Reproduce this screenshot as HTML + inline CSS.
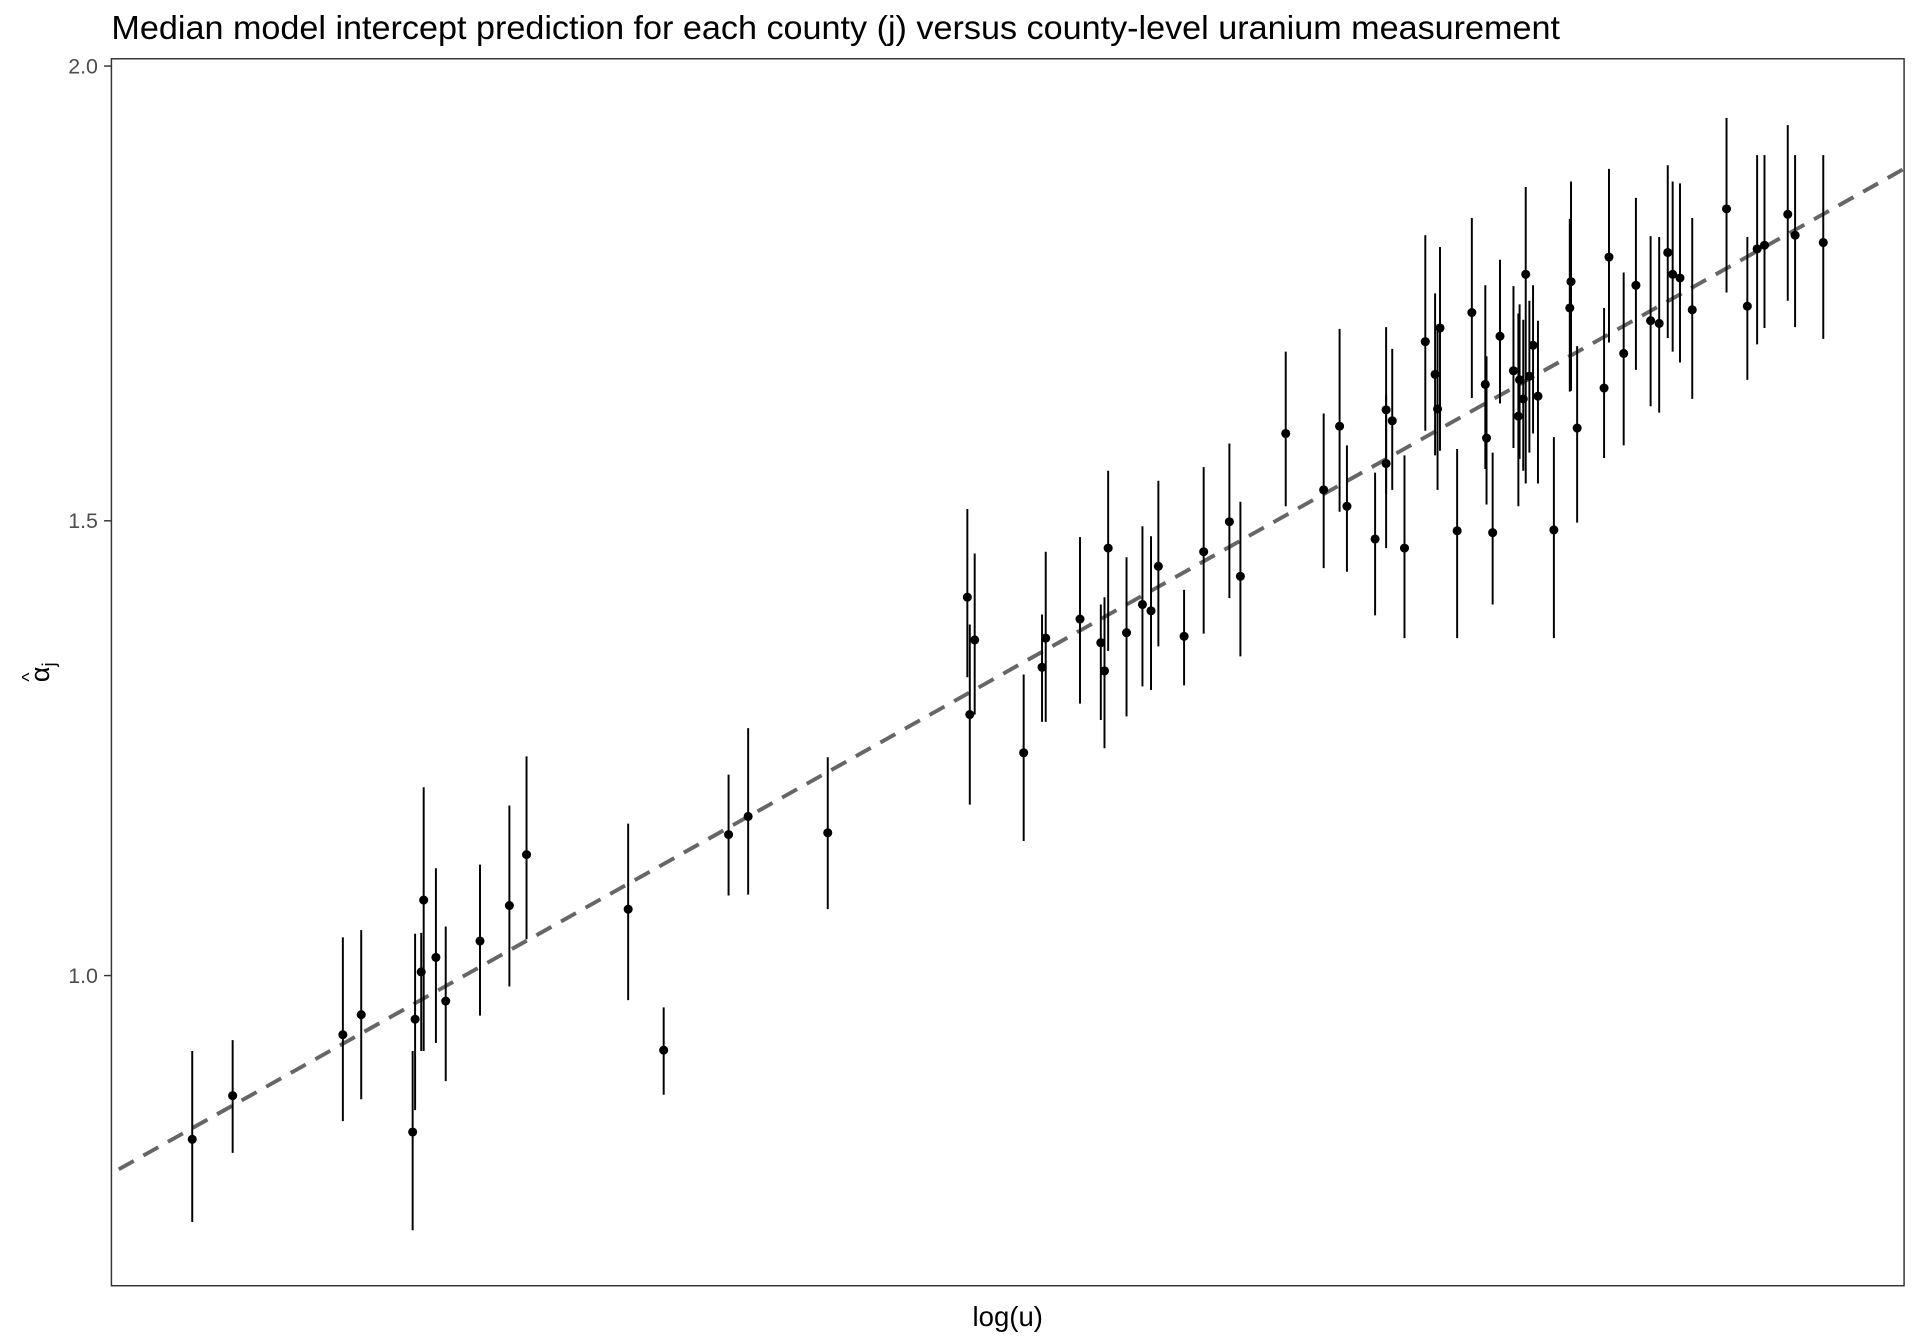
<!DOCTYPE html>
<html><head><meta charset="utf-8"><style>
html,body{margin:0;padding:0;background:#fff;}
svg{display:block;font-family:"Liberation Sans",sans-serif;}
</style></head><body>
<svg id="chart" width="1920" height="1344" viewBox="0 0 1568 1097.6" preserveAspectRatio="none" xmlns="http://www.w3.org/2000/svg">
<rect width="1568" height="1097.6" fill="#fff"/>
<text x="91" y="32" font-size="27.5" fill="#000" textLength="1183" lengthAdjust="spacingAndGlyphs">Median model intercept prediction for each county (j) versus county-level uranium measurement</text>
<rect x="91" y="48" width="1464" height="1002" fill="none" stroke="#333" stroke-width="1.2"/>
<g id="yaxis"></g>
<g id="marks"></g>
<text x="823" y="1083" font-size="22.5" text-anchor="middle">log(u)</text>
<g transform="translate(40,549) rotate(-90)">
<text x="0" y="0" font-size="22" text-anchor="middle">α<tspan font-size="15" dy="5">j</tspan></text>
<text x="-4" y="-11" font-size="16" text-anchor="middle">^</text>
</g>
</svg>
<script>
const logU=[-0.834,-0.801,-0.711,-0.696,-0.654,-0.652,-0.647,-0.645,-0.635,-0.627,-0.599,-0.575,-0.561,-0.478,-0.449,-0.396,-0.380,-0.315,-0.201,-0.199,-0.195,-0.155,-0.140,-0.137,-0.109,-0.092,-0.089,-0.086,-0.071,-0.058,-0.051,-0.045,-0.024,-0.008,0.013,0.022,0.059,0.090,0.103,0.109,0.132,0.141,0.141,0.146,0.156,0.173,0.181,0.183,0.185,0.199,0.211,0.222,0.223,0.228,0.234,0.245,0.249,0.250,0.253,0.255,0.258,0.261,0.265,0.278,0.291,0.292,0.297,0.319,0.323,0.335,0.345,0.357,0.364,0.371,0.375,0.381,0.391,0.419,0.436,0.444,0.450,0.469,0.475,0.498];
const alphaMed=[0.820,0.868,0.935,0.957,0.828,0.952,1.004,1.083,1.020,0.972,1.038,1.077,1.133,1.073,0.918,1.155,1.175,1.157,1.416,1.287,1.369,1.245,1.339,1.371,1.392,1.366,1.335,1.470,1.377,1.408,1.401,1.450,1.373,1.466,1.499,1.439,1.596,1.534,1.604,1.516,1.480,1.563,1.622,1.610,1.470,1.697,1.661,1.623,1.712,1.489,1.729,1.650,1.591,1.487,1.703,1.665,1.615,1.655,1.634,1.771,1.659,1.693,1.637,1.490,1.734,1.763,1.602,1.646,1.790,1.684,1.759,1.720,1.717,1.795,1.771,1.767,1.732,1.843,1.736,1.799,1.803,1.837,1.814,1.806];
const alphaHi=[0.917,0.929,1.042,1.050,0.917,1.046,1.047,1.207,1.118,1.054,1.122,1.187,1.241,1.167,0.965,1.221,1.272,1.240,1.513,1.386,1.464,1.331,1.397,1.466,1.482,1.408,1.416,1.555,1.460,1.494,1.483,1.544,1.424,1.559,1.585,1.521,1.686,1.618,1.711,1.583,1.553,1.639,1.713,1.689,1.572,1.814,1.750,1.716,1.801,1.579,1.833,1.759,1.681,1.575,1.787,1.758,1.728,1.738,1.721,1.867,1.742,1.759,1.720,1.592,1.832,1.873,1.692,1.734,1.887,1.773,1.855,1.813,1.812,1.891,1.873,1.871,1.833,1.943,1.812,1.902,1.902,1.935,1.902,1.902];
const alphaLo=[0.729,0.805,0.840,0.864,0.720,0.852,0.917,0.917,0.926,0.884,0.956,0.988,1.040,0.973,0.869,1.088,1.089,1.073,1.328,1.188,1.287,1.148,1.279,1.279,1.299,1.281,1.250,1.357,1.285,1.318,1.314,1.362,1.319,1.376,1.415,1.351,1.516,1.448,1.510,1.444,1.396,1.470,1.530,1.534,1.371,1.599,1.572,1.534,1.577,1.371,1.635,1.557,1.518,1.408,1.629,1.580,1.516,1.568,1.555,1.541,1.575,1.596,1.541,1.371,1.642,1.643,1.498,1.569,1.696,1.583,1.666,1.626,1.619,1.701,1.686,1.674,1.634,1.751,1.655,1.694,1.712,1.742,1.713,1.700];
const yTicks=[1.0,1.5,2.0];
const yTickLabels=["1.0","1.5","2.0"];
const fitIntercept=1.4615, fitSlope=0.7545;
const fitRange=[-0.894,0.564];

const NS="http://www.w3.org/2000/svg";
const X0=91,X1=1555,Y0=48,Y1=1050;
const xMin=-0.9,xMax=0.564,yMin=0.659,yMax=2.008;
const xs=v=>X0+(v-xMin)/(xMax-xMin)*(X1-X0);
const ys=v=>Y1-(v-yMin)/(yMax-yMin)*(Y1-Y0);
function mk(tag,attrs,parent){const e=document.createElementNS(NS,tag);for(const k in attrs)e.setAttribute(k,attrs[k]);parent.appendChild(e);return e;}
const ya=document.getElementById('yaxis');
yTicks.forEach((t,i)=>{
  const l=mk('line',{x1:85,x2:91,y1:ys(t),y2:ys(t),stroke:'#333','stroke-width':1.2},ya);
  
  
  const tx=mk('text',{x:80,y:ys(t)+6,'font-size':17.5,fill:'#4d4d4d','text-anchor':'end'},ya);
  tx.textContent=yTickLabels[i];
  
  
});
const g=document.getElementById('marks');
const fit=mk('line',{x1:xs(fitRange[0]),y1:ys(fitIntercept+fitSlope*fitRange[0]),x2:xs(fitRange[1]),y2:ys(fitIntercept+fitSlope*fitRange[1]),stroke:'#666','stroke-width':3.2,'stroke-dasharray':'14,9'},g);


logU.forEach((x,i)=>{
  const l=mk('line',{x1:xs(x),x2:xs(x),y1:ys(alphaHi[i]),y2:ys(alphaLo[i]),stroke:'#000','stroke-width':1.6},g);
  
  
  const c=mk('circle',{cx:xs(x),cy:ys(alphaMed[i]),r:3.7,fill:'#000'},g);
  
  
});
</script>
</body></html>
